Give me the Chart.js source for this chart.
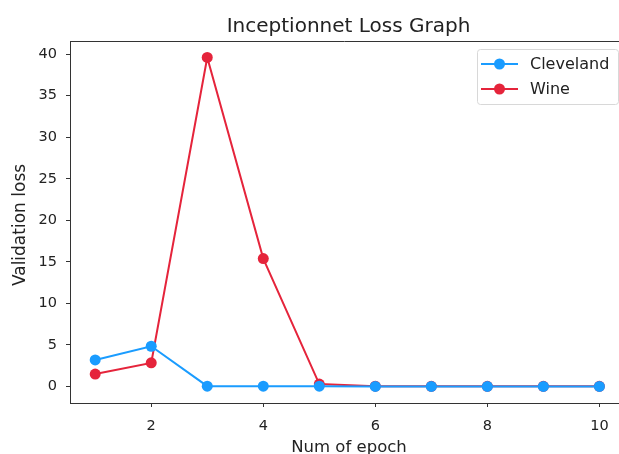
<!DOCTYPE html>
<html>
<head>
<meta charset="utf-8">
<script src="https://cdn.jsdelivr.net/npm/chart.js@4.4.1/dist/chart.umd.min.js"></script>
<style>
html,body{margin:0;padding:0;background:#fff;overflow:hidden;}
#wrap{position:absolute;left:0;top:0;width:619px;height:454px;}
</style>
</head>
<body>
<div id="wrap"><canvas id="c" width="619" height="454"></canvas></div>
<script>
const epochs = [1, 2, 3, 4, 5, 6, 7, 8, 9, 10];
const cleveland = [3.2, 4.85, 0.05, 0.05, 0.05, 0.02, 0.02, 0.02, 0.02, 0.02];
const wine = [1.5, 2.85, 39.6, 15.4, 0.3, 0.05, 0.03, 0.03, 0.03, 0.03];
const xTicks = [2, 4, 6, 8, 10];
const yTicks = [0, 5, 10, 15, 20, 25, 30, 35, 40];
const titleText = 'Inceptionnet Loss Graph';
const xLabel = 'Num of epoch';
const yLabel = 'Validation loss';
const seriesNames = ['Cleveland', 'Wine'];

const BLUE = '#1a9cff';
const RED = '#e5243b';
const FONT = '"DejaVu Sans", sans-serif';

const decor = {
  id: 'decor',
  afterDraw(chart) {
    const ctx = chart.ctx, a = chart.chartArea;
    ctx.save();
    // top spine
    ctx.strokeStyle = '#333';
    ctx.lineWidth = 1;
    ctx.beginPath();
    ctx.moveTo(a.left, a.top + 0.5);
    ctx.lineTo(a.right, a.top + 0.5);
    ctx.stroke();
    // title
    ctx.fillStyle = '#222';
    ctx.textAlign = 'center';
    ctx.textBaseline = 'alphabetic';
    ctx.font = '20px ' + FONT;
    ctx.fillText(titleText, 348.5, 32);
    // x label
    ctx.font = '16.5px ' + FONT;
    ctx.fillText(xLabel, 349, 452);
    // y label
    ctx.save();
    ctx.translate(25, 225);
    ctx.rotate(-Math.PI / 2);
    ctx.font = '17px ' + FONT;
    ctx.fillText(yLabel, 0, 0);
    ctx.restore();
    // legend
    const lx = 477.5, ly = 49.5, lw = 141, lh = 55;
    ctx.fillStyle = 'rgba(255,255,255,0.85)';
    ctx.strokeStyle = '#d8d8d8';
    ctx.lineWidth = 1;
    ctx.beginPath();
    ctx.roundRect(lx, ly, lw, lh, 3);
    ctx.fill();
    ctx.stroke();
    const rows = [[seriesNames[0], BLUE, 64], [seriesNames[1], RED, 89]];
    rows.forEach(([name, col, y]) => {
      ctx.strokeStyle = col;
      ctx.lineWidth = 2;
      ctx.beginPath();
      ctx.moveTo(481, y);
      ctx.lineTo(518, y);
      ctx.stroke();
      ctx.fillStyle = col;
      ctx.beginPath();
      ctx.arc(499.5, y, 5.5, 0, Math.PI * 2);
      ctx.fill();
      ctx.fillStyle = '#222';
      ctx.textAlign = 'left';
      ctx.textBaseline = 'middle';
      ctx.font = '16px ' + FONT;
      ctx.fillText(name, 530, y + 1);
    });
    ctx.restore();
  }
};

new Chart(document.getElementById('c'), {
  type: 'line',
  data: {
    labels: epochs,
    datasets: [
      {
        label: seriesNames[0],
        data: epochs.map((e, i) => ({x: e, y: cleveland[i]})),
        borderColor: BLUE, backgroundColor: BLUE,
        borderWidth: 2, pointRadius: 5.5, pointHoverRadius: 5.5,
        pointBorderWidth: 0, tension: 0, clip: false
      },
      {
        label: seriesNames[1],
        data: epochs.map((e, i) => ({x: e, y: wine[i]})),
        borderColor: RED, backgroundColor: RED,
        borderWidth: 2, pointRadius: 5.5, pointHoverRadius: 5.5,
        pointBorderWidth: 0, tension: 0, clip: false
      }
    ]
  },
  options: {
    responsive: false,
    animation: false,
    events: [],
    layout: {autoPadding: false, padding: {top: 41, right: 0, left: 0, bottom: 0}},
    plugins: {legend: {display: false}, title: {display: false}, tooltip: {enabled: false}},
    scales: {
      x: {
        type: 'linear', min: 0.55, max: 10.35,
        afterBuildTicks: s => { s.ticks = xTicks.map(v => ({value: v})); },
        afterFit: s => { s.height = 51; s.paddingLeft = 0; s.paddingRight = 0; },
        grid: {display: true, drawOnChartArea: false, drawTicks: true, tickLength: 4, color: '#333'},
        border: {display: true, color: '#333', width: 1},
        ticks: {color: '#222', font: {family: FONT, size: 14.5}, padding: 11, maxRotation: 0}
      },
      y: {
        type: 'linear', min: -1.98, max: 41.58,
        afterBuildTicks: s => { s.ticks = yTicks.map(v => ({value: v})); },
        afterFit: s => { s.width = 70; s.paddingTop = 0; s.paddingBottom = 0; },
        grid: {display: true, drawOnChartArea: false, drawTicks: true, tickLength: 4, color: '#333'},
        border: {display: true, color: '#333', width: 1},
        ticks: {color: '#222', font: {family: FONT, size: 14.5}, padding: 9}
      }
    }
  },
  plugins: [decor]
});
</script>
</body>
</html>
